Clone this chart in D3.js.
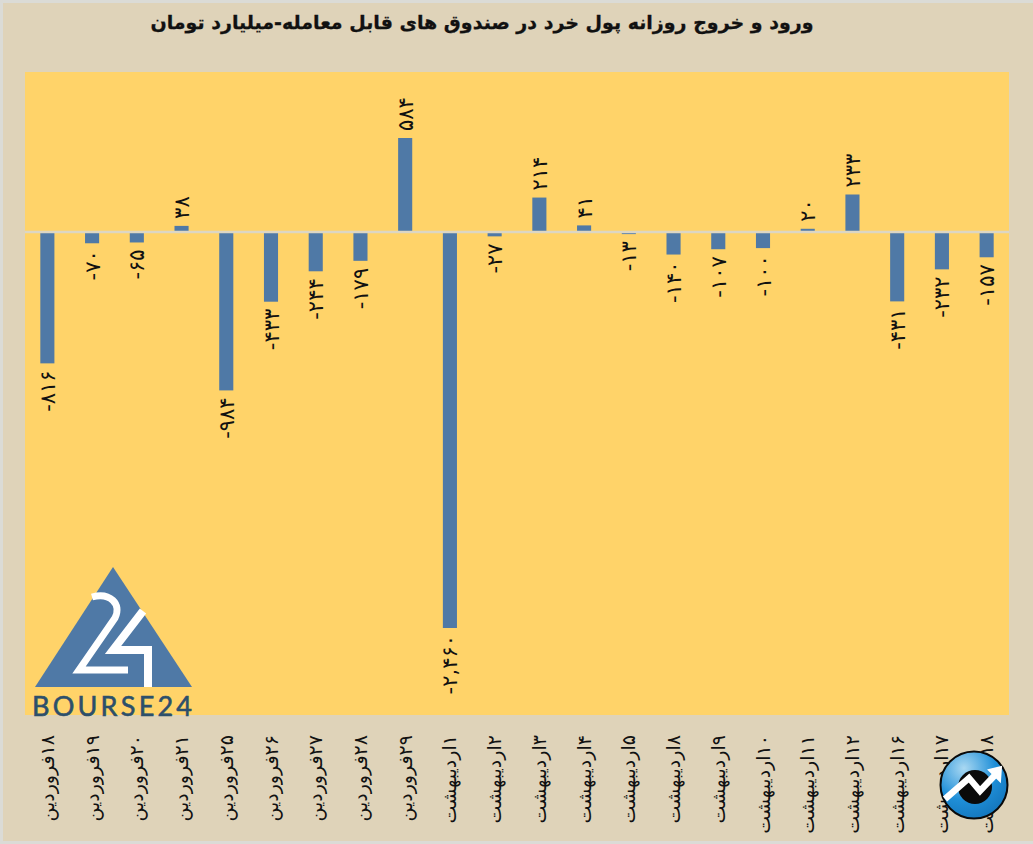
<!DOCTYPE html>
<html><head><meta charset="utf-8">
<script src="https://cdn.jsdelivr.net/npm/d3@7"></script>
<style>html,body{margin:0;padding:0;background:#dfd3b9}svg{display:block}</style>
</head><body><svg id="c" width="1033" height="844"></svg>
<script>
const titleText = "ورود و خروج روزانه پول خرد در صندوق های قابل معامله-میلیارد تومان";
const categories = ["۱۸فروردین","۱۹فروردین","۲۰فروردین","۲۱فروردین","۲۵فروردین","۲۶فروردین","۲۷فروردین","۲۸فروردین","۲۹فروردین","۱اردیبهشت","۲اردیبهشت","۳اردیبهشت","۴اردیبهشت","۵اردیبهشت","۸اردیبهشت","۹اردیبهشت","۱۰اردیبهشت","۱۱اردیبهشت","۱۲اردیبهشت","۱۶اردیبهشت","۱۷اردیبهشت","۱۸اردیبهشت"];
const values = [-816,-70,-65,38,-984,-433,-244,-179,584,-2460,-27,214,41,-13,-140,-107,-100,20,233,-431,-232,-157];
const fa = n => (n<0?"-":"") + d3.format(",")(Math.abs(n)).replace(/\d/g,d=>"۰۱۲۳۴۵۶۷۸۹"[+d]);

const svg = d3.select("#c");
const font = "'DejaVu Sans', sans-serif";
svg.append("rect").attr("width",1033).attr("height",844).attr("fill","#dbdbd6");
svg.append("rect").attr("x",3).attr("y",3).attr("width",1030).attr("height",838).attr("fill","#dfd3b9");

const plot = {l:25,r:1009,t:72,b:715};
svg.append("rect").attr("x",plot.l).attr("y",plot.t).attr("width",plot.r-plot.l).attr("height",plot.b-plot.t).attr("fill","#ffd369");

const x = d3.scaleBand().domain(categories).range([plot.l,plot.r]).paddingInner(0.685).paddingOuter(0.3425);
const y = d3.scaleLinear().domain([-2460,584]).range([628,138]);

svg.append("text").attr("x",482).attr("y",29).attr("text-anchor","middle").attr("direction","rtl")
  .attr("font-family",font).attr("font-weight","bold").attr("font-size",19).attr("fill","#111")
  .attr("stroke","#111").attr("stroke-width",0.3).text(titleText);

svg.selectAll("rect.bar").data(values).join("rect").attr("class","bar")
  .attr("x",(d,i)=>x(categories[i])).attr("width",x.bandwidth())
  .attr("y",d=>y(Math.max(d,0))).attr("height",d=>Math.abs(y(d)-y(0))).attr("fill","#4f79a6");

svg.append("line").attr("x1",plot.l).attr("x2",plot.r).attr("y1",y(0)).attr("y2",y(0)).attr("stroke","#dcd6c4").attr("stroke-width",2.5);

svg.selectAll("text.val").data(values).join("text").attr("class","val")
  .attr("transform",(d,i)=>`translate(${x(categories[i])+x.bandwidth()/2+7.5},${y(d)+(d<0?7:-7)}) rotate(-90)`)
  .attr("text-anchor",d=>d<0?"end":"start").attr("direction","ltr")
  .attr("font-family",font).attr("font-size",21).attr("letter-spacing",2.5).attr("fill","#111").text(d=>fa(d));

const xAxis = d3.axisBottom(x).tickSize(0).tickPadding(0);
const ax = svg.append("g").attr("transform","translate(0,735)").call(xAxis);
ax.select(".domain").remove();
ax.selectAll("text").attr("transform","translate(6.5,0) rotate(-90)").attr("x",0).attr("y",0).attr("dy",0)
  .attr("direction","rtl").attr("text-anchor","start").attr("font-family",font).attr("font-size",19).attr("fill","#111");

// BOURSE24 logo
const logo = svg.append("g");
logo.append("path").attr("d","M113 567L192 687H35Z").attr("fill","#4f79a6");
logo.append("path").attr("d","M92 597C110 592 122 604 115 618L79 670H128").attr("fill","none").attr("stroke","#fff").attr("stroke-width",7);
logo.append("path").attr("d","M143 611L113 650H148V687").attr("fill","none").attr("stroke","#fff").attr("stroke-width",8);
logo.append("text").attr("x",32).attr("y",716).attr("textLength",160).attr("font-family","Lato, sans-serif").attr("font-size",27).attr("fill","#2c4f6b").attr("stroke","#2c4f6b").attr("stroke-width",0.6).text("BOURSE24");

// round badge
const defs = svg.append("defs");
const g = defs.append("radialGradient").attr("id","badge").attr("cx","35%").attr("cy","25%").attr("r","85%");
g.append("stop").attr("offset","0%").attr("stop-color","#a9d8f2");
g.append("stop").attr("offset","55%").attr("stop-color","#1f8fd8");
g.append("stop").attr("offset","100%").attr("stop-color","#1272b8");
const b = svg.append("g");
b.append("circle").attr("cx",974).attr("cy",785).attr("r",33.5).attr("fill","url(#badge)").attr("stroke","#0a0a0a").attr("stroke-width",2);
b.append("circle").attr("cx",975).attr("cy",787).attr("r",17).attr("fill","#0a0a0a");
b.append("path").attr("d","M945 799L969 778L980 791L997 773").attr("fill","none").attr("stroke","#fff").attr("stroke-width",6.5);
b.append("path").attr("d","M989 770L1001 767L1000 781Z").attr("fill","#fff").attr("stroke","#fff").attr("stroke-width",2);
</script></body></html>
